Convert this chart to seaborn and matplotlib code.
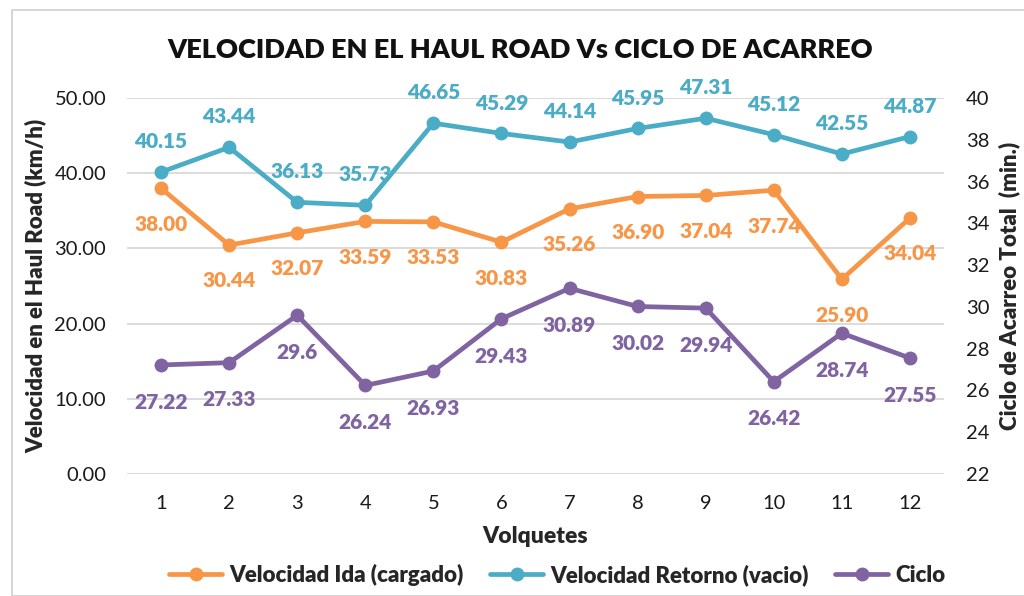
import matplotlib
matplotlib.use("Agg")
import matplotlib.pyplot as plt
import seaborn as sns
import pandas as pd
from matplotlib.patches import Rectangle
from matplotlib.lines import Line2D
from matplotlib.ticker import FormatStrFormatter

volquetes = list(range(1, 13))
vel_ida = [38.00, 30.44, 32.07, 33.59, 33.53, 30.83, 35.26, 36.90, 37.04, 37.74, 25.90, 34.04]
vel_retorno = [40.15, 43.44, 36.13, 35.73, 46.65, 45.29, 44.14, 45.95, 47.31, 45.12, 42.55, 44.87]
ciclo = [27.22, 27.33, 29.6, 26.24, 26.93, 29.43, 30.89, 30.02, 29.94, 26.42, 28.74, 27.55]
ciclo_txt = ["27.22", "27.33", "29.6", "26.24", "26.93", "29.43", "30.89", "30.02", "29.94", "26.42", "28.74", "27.55"]

ORANGE = "#F79646"
BLUE = "#4BACC6"
PURPLE = "#8064A2"

sns.set_style("white")
plt.rcParams['font.family'] = ['Lato', 'DejaVu Sans']
BOLD = "heavy"

df = pd.DataFrame({"Volquetes": volquetes, "ida": vel_ida, "ret": vel_retorno, "ciclo": ciclo})

fig = plt.figure(figsize=(10.24, 5.96), dpi=100)
ax = fig.add_axes([127 / 1024, 1 - 474 / 596, (944 - 127) / 1024, (474 - 98) / 596])
ax2 = ax.twinx()

lw = 3.4
ms = 10
sns.lineplot(data=df, x="Volquetes", y="ida", ax=ax, color=ORANGE, lw=lw, marker="o",
             markersize=ms, markeredgewidth=0, zorder=3)
sns.lineplot(data=df, x="Volquetes", y="ret", ax=ax, color=BLUE, lw=lw, marker="o",
             markersize=ms, markeredgewidth=0, zorder=3)
sns.lineplot(data=df, x="Volquetes", y="ciclo", ax=ax2, color=PURPLE, lw=lw, marker="o",
             markersize=ms, markeredgewidth=0, zorder=3)

ax.set_xlim(0.5, 12.5)
ax.set_ylim(0, 50)
ax2.set_ylim(22, 40)
ax.set_yticks([0, 10, 20, 30, 40, 50])
ax2.set_yticks(range(22, 41, 2))
ax.set_xticks(volquetes)
ax.yaxis.set_major_formatter(FormatStrFormatter("%.2f"))
ax.grid(axis="y", color="#d9d9d9", lw=1.3)
ax.grid(axis="x", visible=False)
for a in (ax, ax2):
    for s in a.spines.values():
        s.set_visible(False)
    a.tick_params(length=0, labelsize=14.5, colors="#1a1a1a")
ax.tick_params(axis="x", pad=15)
ax.tick_params(axis="y", pad=15)
ax2.tick_params(axis="y", pad=16)

fsl = 15
for x, v in zip(volquetes, vel_ida):
    ax.annotate(f"{v:.2f}", (x, v), xytext=(0, -19), textcoords="offset points",
                ha="center", va="top", color=ORANGE, fontsize=fsl, fontweight=BOLD)
for x, v in zip(volquetes, vel_retorno):
    ax.annotate(f"{v:.2f}", (x, v), xytext=(0, 15), textcoords="offset points",
                ha="center", va="bottom", color=BLUE, fontsize=fsl, fontweight=BOLD)
for x, v, t in zip(volquetes, ciclo, ciclo_txt):
    ax2.annotate(t, (x, v), xytext=(0, -20), textcoords="offset points",
                 ha="center", va="top", color=PURPLE, fontsize=fsl, fontweight=BOLD)

ax.set_xlabel("Volquetes", fontsize=16.5, fontweight=BOLD, labelpad=10)
ax.set_ylabel("Velocidad en el Haul Road (km/h)", fontsize=16, fontweight=BOLD, labelpad=6)
ax2.set_ylabel("Ciclo de Acarreo Total  (min.)", fontsize=16, fontweight=BOLD, labelpad=6)

fig.text(520 / 1024, 1 - 50 / 596, "VELOCIDAD EN EL HAUL ROAD Vs CICLO DE ACARREO",
         ha="center", va="center", fontsize=19.5, fontweight=BOLD, color="#111111")

handles = [Line2D([], [], color=c, lw=lw, marker="o", markersize=ms, markeredgewidth=0)
           for c in (ORANGE, BLUE, PURPLE)]
fig.legend(handles, ["Velocidad Ida (cargado)", "Velocidad Retorno (vacio)", "Ciclo"],
           loc="center", bbox_to_anchor=(557 / 1024, 1 - 575 / 596), ncol=3, frameon=False,
           prop={"weight": BOLD, "size": 16}, handlelength=2.4, columnspacing=1.2,
           handletextpad=0.3)

fig.patches.append(Rectangle((12 / 1024, 0), 1.2, 1 - 10 / 596, transform=fig.transFigure,
                             fill=False, edgecolor="#d0d0d0", lw=1.2))

fig.savefig("out.png", dpi=100)
